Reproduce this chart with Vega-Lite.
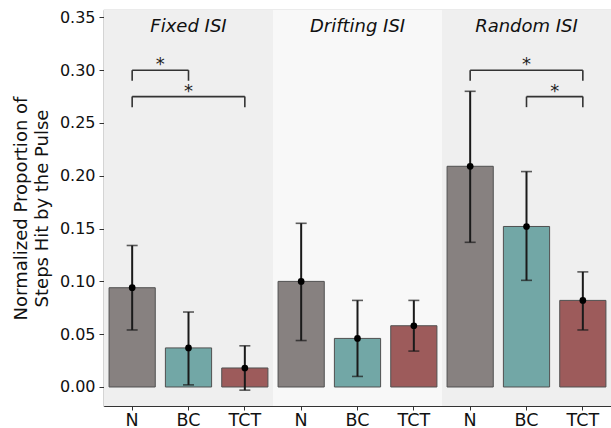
{
  "$schema": "https://vega.github.io/schema/vega-lite/v6.json",
  "width": 507,
  "height": 396,
  "autosize": {"type": "none"},
  "padding": {"left": 104, "top": 10, "right": 0, "bottom": 22},
  "config": {
    "font": "DejaVu Sans",
    "view": {"stroke": "#b0b0b0", "strokeWidth": 1.2},
    "axis": {"grid": false}
  },
  "datasets": {
    "bars": [
      {"id": "Fixed|N", "cond": "Fixed", "group": "N", "mean": 0.094, "lo": 0.054, "hi": 0.134},
      {"id": "Fixed|BC", "cond": "Fixed", "group": "BC", "mean": 0.037, "lo": 0.002, "hi": 0.071},
      {"id": "Fixed|TCT", "cond": "Fixed", "group": "TCT", "mean": 0.018, "lo": -0.003, "hi": 0.039},
      {"id": "Drifting|N", "cond": "Drifting", "group": "N", "mean": 0.100, "lo": 0.044, "hi": 0.155},
      {"id": "Drifting|BC", "cond": "Drifting", "group": "BC", "mean": 0.046, "lo": 0.010, "hi": 0.082},
      {"id": "Drifting|TCT", "cond": "Drifting", "group": "TCT", "mean": 0.058, "lo": 0.034, "hi": 0.082},
      {"id": "Random|N", "cond": "Random", "group": "N", "mean": 0.209, "lo": 0.137, "hi": 0.280},
      {"id": "Random|BC", "cond": "Random", "group": "BC", "mean": 0.152, "lo": 0.101, "hi": 0.204},
      {"id": "Random|TCT", "cond": "Random", "group": "TCT", "mean": 0.082, "lo": 0.054, "hi": 0.109}
    ],
    "conds": [
      {"cond": "Fixed", "title": "Fixed ISI", "at": "Fixed|BC"},
      {"cond": "Drifting", "title": "Drifting ISI", "at": "Drifting|BC"},
      {"cond": "Random", "title": "Random ISI", "at": "Random|BC"}
    ],
    "brackets": [
      {"from": "Fixed|N", "to": "Fixed|BC", "level": 0.300, "end": 0.290},
      {"from": "Fixed|N", "to": "Fixed|TCT", "level": 0.275, "end": 0.265},
      {"from": "Random|N", "to": "Random|TCT", "level": 0.300, "end": 0.290},
      {"from": "Random|BC", "to": "Random|TCT", "level": 0.275, "end": 0.265}
    ],
    "starsCenter": [
      {"at": "Fixed|BC", "level": 0.275},
      {"at": "Random|BC", "level": 0.300}
    ],
    "starsBetween": [
      {"at": "Fixed|N", "level": 0.300},
      {"at": "Random|BC", "level": 0.275}
    ]
  },
  "resolve": {"scale": {"x": "independent", "color": "independent"}, "axis": {"x": "independent"}},
  "layer": [
    {
      "data": {"name": "conds"},
      "mark": {"type": "bar", "opacity": 1},
      "encoding": {
        "x": {"field": "cond", "type": "nominal", "scale": {"domain": ["Fixed", "Drifting", "Random"], "paddingInner": 0, "paddingOuter": 0}, "axis": null},
        "y": {"datum": 0.357, "type": "quantitative", "scale": {"domain": [-0.018, 0.357], "nice": false, "zero": false}},
        "y2": {"datum": -0.018},
        "color": {"field": "cond", "type": "nominal", "scale": {"domain": ["Fixed", "Drifting", "Random"], "range": ["#efefef", "#f8f8f8", "#efefef"]}, "legend": null}
      }
    },
    {
      "layer": [
        {
          "data": {"name": "bars"},
          "mark": {"type": "bar", "stroke": "#505050", "strokeWidth": 1},
          "encoding": {
            "x": {
              "field": "id", "type": "nominal",
              "scale": {"domain": ["Fixed|N", "Fixed|BC", "Fixed|TCT", "Drifting|N", "Drifting|BC", "Drifting|TCT", "Random|N", "Random|BC", "Random|TCT"], "paddingInner": 0.18, "paddingOuter": 0.09},
              "sort": null,
              "axis": {"title": null, "labelExpr": "split(datum.value, '|')[1]", "labelAngle": 0, "labelFontSize": 17.5, "labelColor": "#111", "labelPadding": 1, "tickSize": 4, "tickColor": "#333", "domainColor": "#333", "domainWidth": 1.2}
            },
            "y": {
              "field": "mean", "type": "quantitative",
              "scale": {"domain": [-0.018, 0.357], "nice": false, "zero": false},
              "axis": {"values": [0, 0.05, 0.1, 0.15, 0.2, 0.25, 0.3, 0.35], "format": ".2f", "labelFontSize": 16, "labelColor": "#111", "labelPadding": 4, "tickSize": 5, "tickColor": "#333", "domainColor": "#333", "domainWidth": 1.2, "title": ["Normalized Proportion of", "Steps Hit by the Pulse"], "titleFontSize": 18, "titleFontWeight": "normal", "titleColor": "#111", "titleLineHeight": 21, "titlePadding": 8}
            },
            "y2": {"datum": 0},
            "color": {"field": "group", "type": "nominal", "scale": {"domain": ["N", "BC", "TCT"], "range": ["#878180", "#72a7a6", "#9d5b5b"]}, "legend": null}
          }
        },
        {
          "data": {"name": "bars"},
          "mark": {"type": "rule", "color": "#1a1a1a", "strokeWidth": 2},
          "encoding": {
            "x": {"field": "id", "type": "nominal"},
            "y": {"field": "lo", "type": "quantitative"},
            "y2": {"field": "hi"}
          }
        },
        {
          "data": {"name": "bars"},
          "mark": {"type": "tick", "color": "#1a1a1a", "size": 11, "thickness": 1.6},
          "encoding": {
            "x": {"field": "id", "type": "nominal"},
            "y": {"field": "lo", "type": "quantitative"}
          }
        },
        {
          "data": {"name": "bars"},
          "mark": {"type": "tick", "color": "#1a1a1a", "size": 11, "thickness": 1.6},
          "encoding": {
            "x": {"field": "id", "type": "nominal"},
            "y": {"field": "hi", "type": "quantitative"}
          }
        },
        {
          "data": {"name": "bars"},
          "mark": {"type": "point", "filled": true, "color": "#000000", "size": 45, "opacity": 1},
          "encoding": {
            "x": {"field": "id", "type": "nominal"},
            "y": {"field": "mean", "type": "quantitative"}
          }
        },
        {
          "data": {"name": "brackets"},
          "mark": {"type": "rule", "color": "#333333", "strokeWidth": 1.6},
          "encoding": {
            "x": {"field": "from", "type": "nominal"},
            "x2": {"field": "to"},
            "y": {"field": "level", "type": "quantitative"}
          }
        },
        {
          "data": {"name": "brackets"},
          "transform": [{"fold": ["from", "to"], "as": ["side", "pos"]}],
          "mark": {"type": "rule", "color": "#333333", "strokeWidth": 1.6},
          "encoding": {
            "x": {"field": "pos", "type": "nominal"},
            "y": {"field": "level", "type": "quantitative"},
            "y2": {"field": "end"}
          }
        },
        {
          "data": {"name": "starsCenter"},
          "mark": {"type": "text", "text": "*", "fontSize": 18, "color": "#222", "baseline": "alphabetic", "dy": 0},
          "encoding": {
            "x": {"field": "at", "type": "nominal"},
            "y": {"field": "level", "type": "quantitative"}
          }
        },
        {
          "data": {"name": "starsBetween"},
          "mark": {"type": "text", "text": "*", "fontSize": 18, "color": "#222", "baseline": "alphabetic", "dy": 0},
          "encoding": {
            "x": {"field": "at", "type": "nominal", "bandPosition": 1.11},
            "y": {"field": "level", "type": "quantitative"}
          }
        },
        {
          "data": {"name": "conds"},
          "mark": {"type": "text", "fontSize": 18, "fontStyle": "italic", "color": "#111", "baseline": "middle"},
          "encoding": {
            "x": {"field": "at", "type": "nominal"},
            "y": {"datum": 0.3406, "type": "quantitative"},
            "text": {"field": "title"}
          }
        }
      ]
    }
  ]
}
